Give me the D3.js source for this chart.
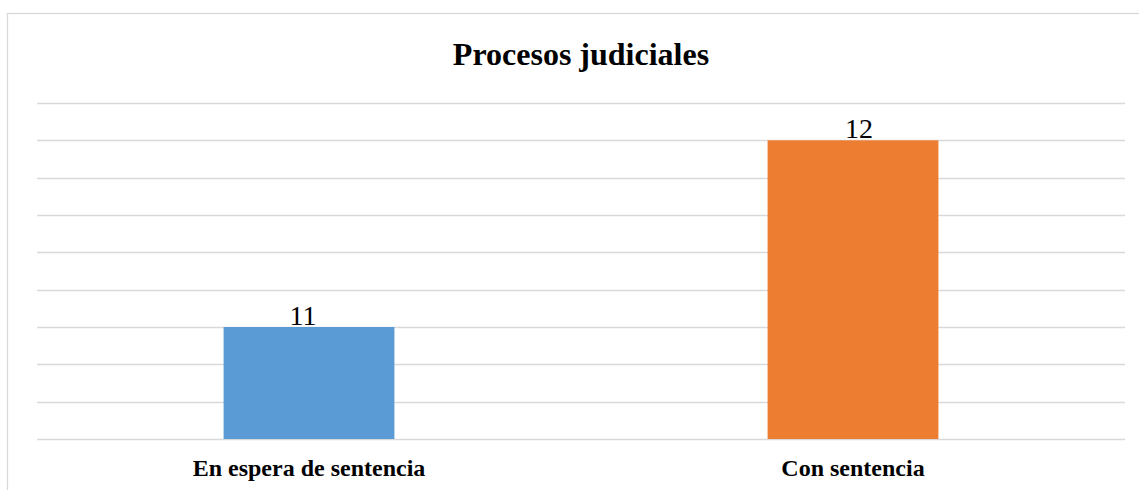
<!DOCTYPE html>
<html>
<head>
<meta charset="utf-8">
<script src="https://cdn.jsdelivr.net/npm/d3@7"></script>
<style>
  html, body { margin: 0; padding: 0; background: #fff; }
  svg { display: block; }
</style>
</head>
<body>
<svg id="chart" width="1139" height="490"></svg>
<script>
// Chart data
const categories = ["En espera de sentencia", "Con sentencia"];
const values = [11, 12];
const barColors = ["#5b9bd5", "#ed7d31"];
const titleText = "Procesos judiciales";
// Value axis (hidden labels) with gridlines every 0.2
const yDomain = [10.4, 12.2];
const yStep = 0.2;

const W = 1139, H = 490;
const margin = { left: 37, right: 14, top: 103, bottom: 51 };
const serif = "'Liberation Serif', 'Times New Roman', serif";
// Horizontal nudge of each value label relative to its bar centre
const labelNudge = [-6, 6];

const svg = d3.select("#chart");

// Chart area frame
svg.append("rect")
  .attr("x", 7.5).attr("y", 13.5)
  .attr("width", W + 20).attr("height", H + 20)
  .attr("fill", "#fff")
  .attr("stroke", "#d9d9d9")
  .attr("stroke-width", 1.3);

const x = d3.scaleBand()
  .domain(categories)
  .range([margin.left, W - margin.right])
  .paddingInner(0.686)
  .paddingOuter(0.343);

const y = d3.scaleLinear()
  .domain(yDomain)
  .range([H - margin.bottom, margin.top]);

// Horizontal gridlines
const ticks = d3.range(Math.round((yDomain[1] - yDomain[0]) / yStep) + 1)
  .map(i => yDomain[0] + i * yStep);

svg.append("g")
  .selectAll("line")
  .data(ticks)
  .join("line")
  .attr("x1", margin.left)
  .attr("x2", W - margin.right)
  .attr("y1", d => Math.round(y(d)) + 0.5)
  .attr("y2", d => Math.round(y(d)) + 0.5)
  .attr("stroke", "#d9d9d9")
  .attr("stroke-width", 1.3);

// Bars
svg.append("g")
  .selectAll("rect")
  .data(values)
  .join("rect")
  .attr("x", (d, i) => x(categories[i]))
  .attr("width", x.bandwidth())
  .attr("y", d => y(d))
  .attr("height", d => y(yDomain[0]) - y(d))
  .attr("fill", (d, i) => barColors[i]);

// Value labels
svg.append("g")
  .selectAll("text")
  .data(values)
  .join("text")
  .attr("x", (d, i) => x(categories[i]) + x.bandwidth() / 2 + labelNudge[i])
  .attr("y", d => y(d) - 2)
  .attr("text-anchor", "middle")
  .attr("font-family", serif)
  .attr("font-size", "28px")
  .attr("fill", "#000")
  .text(d => d);

// Category labels
svg.append("g")
  .selectAll("text")
  .data(categories)
  .join("text")
  .attr("x", d => x(d) + x.bandwidth() / 2)
  .attr("y", 476)
  .attr("text-anchor", "middle")
  .attr("font-family", serif)
  .attr("font-weight", "bold")
  .attr("font-size", "24px")
  .attr("fill", "#000")
  .text(d => d);

// Title
svg.append("text")
  .attr("x", 581)
  .attr("y", 65)
  .attr("text-anchor", "middle")
  .attr("font-family", serif)
  .attr("font-weight", "bold")
  .attr("font-size", "32px")
  .attr("fill", "#000")
  .text(titleText);
</script>
</body>
</html>
